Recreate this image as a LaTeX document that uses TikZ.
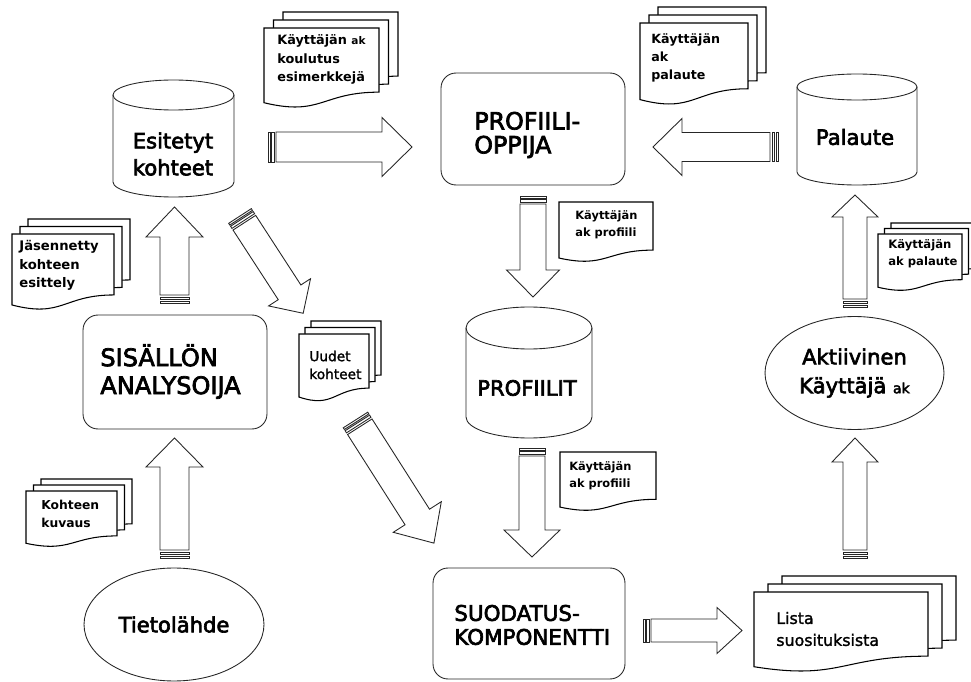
\documentclass[tikz,border=0pt]{standalone}
\usepackage{fontspec}
\setmainfont{DejaVu Sans}
\newfontfamily\titlefont{DejaVu Sans}[FakeBold=3]
\newfontfamily\mediumfont{DejaVu Sans}[FakeBold=1.5]
\usepackage{tikz}
\usetikzlibrary{shapes.geometric}

\tikzset{
  shapeline/.style={draw=black!85, line width=0.5pt},
  docline/.style={draw=black, line width=0.6pt, fill=white},
  roundbox/.style={shapeline, rounded corners=0.3cm, inner sep=0pt},
  boxtext/.style={anchor=west, align=left, inner sep=0pt},
  oval/.style={shapeline, ellipse, align=center, inner sep=0pt},
  drumtext/.style={font=\titlefont\fontsize{12}{15.3}\selectfont, align=center, inner sep=0pt},
  doctext/.style={anchor=west, align=left, inner sep=0pt},
  pics/drum/.style n args={3}{code={% width, height, y radius (origin: top middle)
    \draw[shapeline] (-#1/2,#3) -- (-#1/2,#2-#3)
      arc[start angle=180, end angle=360, x radius={#1/2*0.02cm}, y radius={#3*0.02cm}]
      -- (#1/2,#3);
    \draw[shapeline] (0,#3) ellipse [x radius={#1/2*0.02cm}, y radius={#3*0.02cm}];
  }},
  pics/docsheets/.style n args={5}{code={% width, height, dx, dy, back sheets (origin: top left)
    \foreach \k in {#5,...,0}
      \draw[docline, shift={(\k*#3,-\k*#4)}] (0,0) -- (#1,0) -- (#1,0.802*#2)
        .. controls (0.5*#1,0.802*#2) and (0.5*#1,1.108*#2) .. (0,0.934*#2) -- cycle;
  }},
  pics/blockarrow/.style n args={4}{code={% length, shaft, head width, head length (origin: tail)
    \draw[shapeline] (0,-#2/2) rectangle (2,#2/2) (3.5,-#2/2) rectangle (6,#2/2);
    \draw[shapeline] (8,-#2/2) -- (#1-#4,-#2/2) -- (#1-#4,-#3/2) -- (#1,0)
      -- (#1-#4,#3/2) -- (#1-#4,#2/2) -- (8,#2/2) -- cycle;
  }}
}

\begin{document}
\begin{tikzpicture}[x=0.02cm, y=-0.02cm]
  \useasboundingbox (0,0) rectangle (971,682);

  % tietovarastot
  \pic at (173.5,80) {drum={121}{117}{15}};
  \node[drumtext] (esitetyt) at (173,154) {Esitetyt\\kohteet};
  \pic at (857,74) {drum={120}{111}{13}};
  \node[drumtext] (palaute) at (855,137) {Palaute};
  \pic at (529,307) {drum={126}{131}{21}};
  \node[drumtext] (profiilit) at (527,388) {PROFIILIT};

  % komponentit
  \node[roundbox, minimum width=3.68cm, minimum height=2.24cm] (oppija) at (533,129) {};
  \node[boxtext, font=\titlefont\fontsize{13.5}{13.6}\selectfont] (oppijateksti) at (474,135)
    {PROFIILI-\\OPPIJA};
  \node[roundbox, minimum width=3.68cm, minimum height=2.28cm] (analysoija) at (175,372) {};
  \node[boxtext, font=\titlefont\fontsize{13.7}{15.9}\selectfont] (analysoijateksti) at (100,371.5)
    {SISÄLLÖN\\ANALYSOIJA};
  \node[roundbox, minimum width=3.84cm, minimum height=2.22cm] (suodatus) at (529,623.5) {};
  \node[boxtext, font=\titlefont\fontsize{12.2}{13.6}\selectfont] (suodatusteksti) at (454,625)
    {SUODATUS-\\KOMPONENTTI};
  \node[oval, minimum width=3.6cm, minimum height=2.26cm,
    font=\titlefont\fontsize{12}{15}\selectfont] (tietolahde) at (174,624.5) {Tietolähde};
  \node[oval, minimum width=3.58cm, minimum height=2.26cm,
    font=\titlefont\fontsize{12}{16.4}\selectfont] (aktiivinen) at (854.5,373)
    {Aktiivinen\\Käyttäjä {\fontsize{8}{8}\selectfont ak}};

  % dokumentit
  \pic at (264,28) {docsheets={115}{80}{9.5}{8}{2}};
  \node[doctext, font=\fontsize{7.3}{10.5}\selectfont\bfseries] (koulutus) at (277,59.5)
    {Käyttäjän {\fontsize{6}{6}\selectfont ak}\\koulutus\\esimerkkejä};
  \pic at (640,23) {docsheets={108}{82}{9}{8}{2}};
  \node[doctext, font=\fontsize{7.2}{10.2}\selectfont\bfseries] (palautedoc) at (651,58)
    {Käyttäjän\\ak\\palaute};
  \pic at (12,234) {docsheets={102}{76}{8}{7.5}{2}};
  \node[doctext, font=\fontsize{7.5}{10.5}\selectfont\bfseries] (jasennetty) at (19,265.5)
    {Jäsennetty\\kohteen\\esittely};
  \pic at (299,334) {docsheets={70}{67.5}{6}{6.5}{2}};
  \node[doctext, font=\mediumfont\fontsize{7.8}{10.2}\selectfont] (uudet) at (309,365)
    {Uudet\\kohteet};
  \pic at (26,491) {docsheets={91}{56}{7.5}{6}{2}};
  \node[doctext, font=\fontsize{7}{10.2}\selectfont\bfseries] (kuvaus) at (41,514)
    {Kohteen\\kuvaus};
  \pic at (754,592) {docsheets={174}{80}{14}{8}{2}};
  \node[doctext, font=\mediumfont\fontsize{9}{12.5}\selectfont] (lista) at (776,629)
    {Lista\\suosituksista};
  \pic at (878,234) {docsheets={84}{57}{6.5}{5.5}{2}};
  \node[doctext, font=\fontsize{6.6}{9.6}\selectfont\bfseries] (palautepieni) at (888,253.5)
    {Käyttäjän\\ak palaute};
  \pic at (559,202) {docsheets={94}{60}{0}{0}{0}};
  \node[doctext, font=\fontsize{6.5}{9.6}\selectfont\bfseries] (profiili) at (575,224.5)
    {Käyttäjän\\ak profiili};
  \pic at (560,452) {docsheets={96}{59}{0}{0}{0}};
  \node[doctext, font=\fontsize{6.5}{9.6}\selectfont\bfseries] (profiilib) at (569,475.5)
    {Käyttäjän\\ak profiili};

  % nuolet
  \pic at (268,147) {blockarrow={144}{30}{59}{30}};
  \pic[rotate=180] at (778,147) {blockarrow={125}{29}{57}{29}};
  \pic[rotate=-90] at (533,196) {blockarrow={101}{26}{53}{27}};
  \pic[rotate=-90] at (532,448) {blockarrow={109}{26}{56}{27}};
  \pic at (643,630.5) {blockarrow={99}{23}{46}{25}};
  \pic[rotate=90] at (855,558) {blockarrow={120}{24}{46}{24}};
  \pic[rotate=90] at (855,307) {blockarrow={112}{24}{46}{22}};
  \pic[rotate=90] at (174.5,303) {blockarrow={96}{29}{57}{30}};
  \pic[rotate=90] at (174.5,558) {blockarrow={120}{29}{57}{29}};
  \pic[rotate=-57] at (240,216) {blockarrow={116}{27}{50}{25}};
  \pic[rotate=-57.5] at (355.5,420) {blockarrow={146}{29}{57}{31}};
\end{tikzpicture}
\end{document}
